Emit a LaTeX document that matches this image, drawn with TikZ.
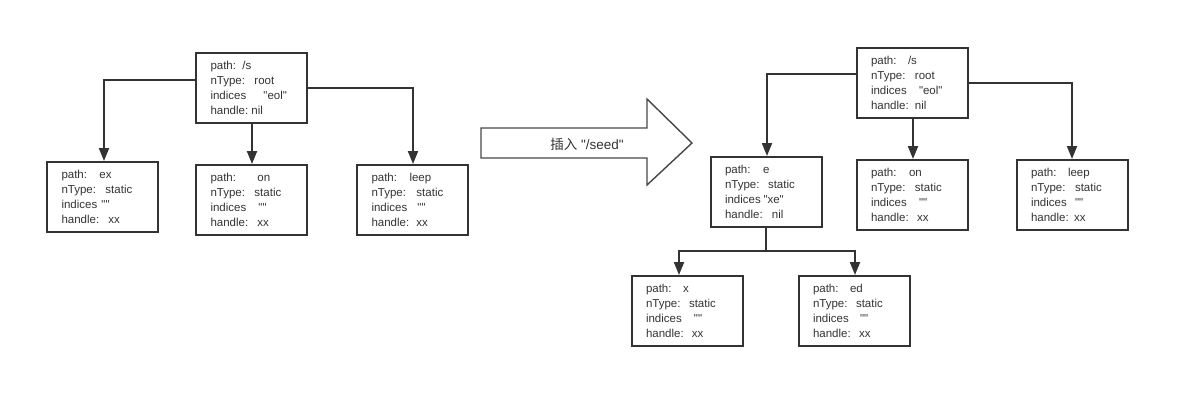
\documentclass[tikz,border=0pt]{standalone}
\usepackage{fontspec}
\setmainfont{Liberation Sans}[Ligatures=TeXOff]
\newfontfamily\cjk{Noto Sans CJK SC}
\usetikzlibrary{arrows.meta}
\definecolor{ink}{HTML}{333333}
\newcommand{\fld}[3]{\makebox[#2pt][l]{#1}#3\\}
\newcommand{\qq}{\symbol{34}}
\tikzset{
  nodebox/.style={draw=ink, line width=2pt, minimum width=111pt, minimum height=70pt,
    inner xsep=14.5pt, inner ysep=0pt, text width=82pt, align=left,
    font=\fontsize{11.5}{15}\selectfont, text=ink},
  conn/.style={draw=ink, line width=2pt, -{Triangle[length=13pt,width=10pt]}},
  plain/.style={draw=ink, line width=2pt},
}
\begin{document}
\begin{tikzpicture}[x=1pt,y=-1pt]
\useasboundingbox (0,0) rectangle (1196,408);
% left tree
\node[nodebox] (r) at (251.5,88) {\fld{path:}{32}{/s}\fld{nType:}{44}{root}\fld{indices}{53}{\qq eol\qq}\fld{handle:}{41}{nil}};
\node[nodebox] (ex) at (102.5,197) {\fld{path:}{38}{ex}\fld{nType:}{44}{static}\fld{indices}{40}{\qq\qq}\fld{handle:}{47}{xx}};
\node[nodebox] (on) at (251.5,200) {\fld{path:}{47}{on}\fld{nType:}{44}{static}\fld{indices}{48}{\qq\qq}\fld{handle:}{47}{xx}};
\node[nodebox] (lp) at (412.5,200) {\fld{path:}{38}{leep}\fld{nType:}{45}{static}\fld{indices}{46}{\qq\qq}\fld{handle:}{45}{xx}};
\draw[conn] ([yshift=8pt]r.west) -| ([xshift=1.5pt]ex.north);
\draw[conn] ([xshift=0.5pt]r.south) -- ([xshift=0.5pt]on.north);
\draw[conn] (r.east) -| ([xshift=0.5pt]lp.north);
% big arrow
\draw[draw=ink!90, line width=1.4pt, fill=white] (481,128) -- (647,128) -- (647,99) -- (692,143) -- (647,185) -- (647,158) -- (481,158) -- cycle;
\node[text=ink, font=\fontsize{13.5}{15}\selectfont] (lbl) at (587,144) {{\cjk 插入} \qq/seed\qq};
% right tree
\node[nodebox] (R) at (912,82.5) {\fld{path:}{37}{/s}\fld{nType:}{44}{root}\fld{indices}{48}{\qq eol\qq}\fld{handle:}{44}{nil}};
\node[nodebox] (e) at (766,192) {\fld{path:}{38}{e}\fld{nType:}{43}{static}\fld{indices}{38.5}{\qq xe\qq}\fld{handle:}{47}{nil}};
\node[nodebox] (on2) at (912,195) {\fld{path:}{38}{on}\fld{nType:}{44}{static}\fld{indices}{48}{\qq\qq}\fld{handle:}{46}{xx}};
\node[nodebox] (lp2) at (1072,195) {\fld{path:}{37}{leep}\fld{nType:}{44}{static}\fld{indices}{44}{\qq\qq}\fld{handle:}{43}{xx}};
\node[nodebox] (xb) at (687,311) {\fld{path:}{37}{x}\fld{nType:}{43}{static}\fld{indices}{48}{\qq\qq}\fld{handle:}{46}{xx}};
\node[nodebox] (ed) at (854,311) {\fld{path:}{37}{ed}\fld{nType:}{43}{static}\fld{indices}{47}{\qq\qq}\fld{handle:}{46}{xx}};
\draw[conn] ([yshift=8.5pt]R.west) -| ([xshift=1pt]e.north);
\draw[conn] ([xshift=1pt]R.south) -- ([xshift=1pt]on2.north);
\draw[conn] (R.east) -| (lp2.north);
\coordinate (j) at (766,251);
\draw[plain] (e.south) -- (j);
\draw[conn] (j) -| ([xshift=-8pt]xb.north);
\draw[conn] (j) -| ([xshift=1pt]ed.north);
\end{tikzpicture}
\end{document}
